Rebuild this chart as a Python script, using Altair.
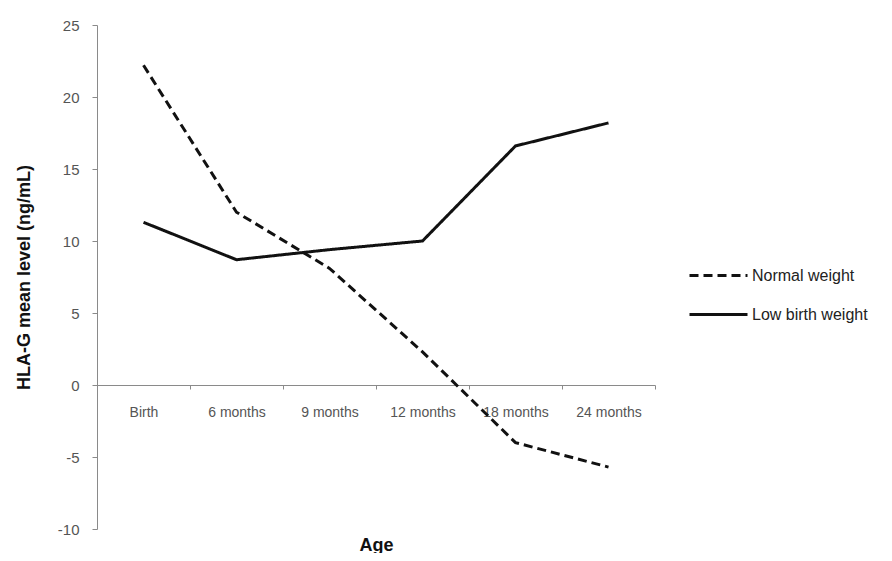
import altair as alt
import pandas as pd

ages = ["Birth", "6 months", "9 months", "12 months", "18 months", "24 months"]
normal_weight = [22.2, 12.0, 8.1, 2.3, -4.0, -5.7]
low_birth_weight = [11.3, 8.7, 9.4, 10.0, 16.6, 18.2]
series = ["Normal weight", "Low birth weight"]

rows = []
for a, v in zip(ages, normal_weight):
    rows.append({"Age": a, "value": v, "group": series[0]})
for a, v in zip(ages, low_birth_weight):
    rows.append({"Age": a, "value": v, "group": series[1]})
df = pd.DataFrame(rows)

chart = alt.Chart(df).mark_line(strokeWidth=3, color="#111111").encode(
    x=alt.X("Age:N", sort=ages, scale=alt.Scale(paddingInner=0, paddingOuter=0),
            axis=alt.Axis(title="Age", labelAngle=0, offset=-144, tickBand="extent",
                          domainColor="#8a8a8a", tickColor="#8a8a8a", tickSize=4,
                          labelColor="#555555", labelFont="Liberation Sans", labelFontSize=14,
                          labelPadding=16, titleFont="Liberation Sans", titleFontSize=18,
                          titleFontWeight="bold", titleColor="#111111", titleY=151,
                          titleBaseline="top")),
    y=alt.Y("value:Q", scale=alt.Scale(domain=[-10, 25], nice=False),
            axis=alt.Axis(title="HLA-G mean level (ng/mL)", values=[-10, -5, 0, 5, 10, 15, 20, 25],
                          labelExpr="'' + datum.value",
                          grid=False, domainColor="#8a8a8a", tickColor="#8a8a8a", tickSize=5,
                          labelColor="#555555", labelFont="Liberation Sans", labelFontSize=15,
                          labelPadding=13, titleFont="Liberation Sans", titleFontSize=18,
                          titleFontWeight="bold", titleColor="#111111", titlePadding=24)),
    strokeDash=alt.StrokeDash("group:N", sort=series,
                              scale=alt.Scale(domain=series, range=[[9, 5], [1, 0]]),
                              legend=alt.Legend(title=None, orient="none", legendX=591, legendY=220,
                                                symbolType="stroke", symbolSize=3364,
                                                symbolStrokeWidth=3, symbolStrokeColor="#111111",
                                                labelFont="Liberation Sans", labelFontSize=16,
                                                labelColor="#222222", rowPadding=-22, labelOffset=3)),
    detail="group:N",
).properties(
    width=558, height=504,
    background="white",
    autosize=alt.AutoSizeParams(type="none"),
    padding={"left": 89, "top": 17, "right": 229, "bottom": 24},
).configure_view(strokeWidth=0, stroke=None)

chart.save("out.html", embed_options={"renderer": "svg", "actions": False})
